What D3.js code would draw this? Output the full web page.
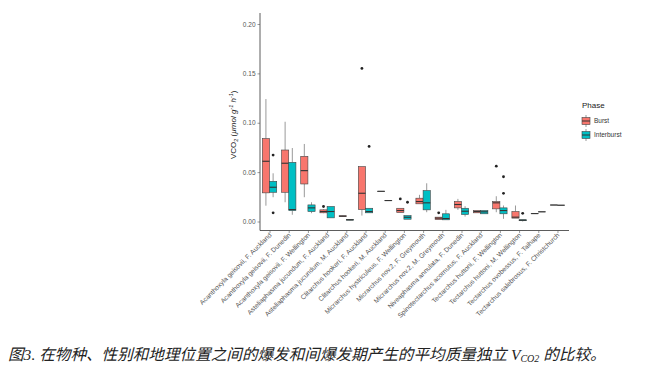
<!DOCTYPE html>
<html><head><meta charset="utf-8">
<script src="https://cdn.jsdelivr.net/npm/d3@7"></script>
<style>
html,body{margin:0;padding:0;background:#fff;}
svg{display:block;}
</style></head>
<body>
<svg id="chart" width="650" height="366"></svg>
<script>
const categories = [
  "Acanthoxyla geisovii, F. Auckland",
  "Acanthoxyla geisovii, F. Dunedin",
  "Acanthoxyla geisovii, F. Wellington",
  "Asteliaphasma jucundum, F. Auckland",
  "Asteliaphasma jucundum, M. Auckland",
  "Clitarchus hookeri, F. Auckland",
  "Clitarchus hookeri, M. Auckland",
  "Micrarchus hystriculeus, F. Wellington",
  "Micrarchus nov.2, F. Greymouth",
  "Micrarchus nov.2, M. Greymouth",
  "Niveaphasma annulata, F. Dunedin",
  "Spinotectarchus acornutus, F. Auckland",
  "Tectarchus huttoni, F. Wellington",
  "Tectarchus huttoni, M. Wellington",
  "Tectarchus ovobessus, F. Taihape",
  "Tectarchus salebrosus, F. Christchurch"
];
const phases = ["Burst", "Interburst"];
const phaseColors = ["#F8766D", "#00BFC4"];
const yTicks = [0, 0.05, 0.10, 0.15, 0.20];
const yTickLabels = ["0.00", "0.05", "0.10", "0.15", "0.20"];

// Burst five-number summaries
const burstMin = [0.016, 0.0195, 0.0246, 0.0084, 0.0048, 0.006, 0.0306, 0.0091, 0.0179, 0.002, 0.0118, 0.0088, 0.0094, 0.0034, 0.0080, 0.0167];
const burstQ1  = [0.029, 0.0296, 0.038, 0.0088, 0.0050, 0.0121, 0.0306, 0.0091, 0.0179, 0.002, 0.0138, 0.0088, 0.0128, 0.0034, 0.0080, 0.0167];
const burstMed = [0.061, 0.059, 0.0515, 0.0101, 0.0054, 0.0286, 0.0306, 0.0111, 0.0202, 0.0034, 0.0172, 0.0101, 0.0189, 0.0044, 0.0080, 0.0167];
const burstQ3  = [0.084, 0.0724, 0.066, 0.0118, 0.0058, 0.0556, 0.0306, 0.0134, 0.0236, 0.0044, 0.0202, 0.0111, 0.0202, 0.0101, 0.0080, 0.0167];
const burstMax = [0.124, 0.101, 0.0785, 0.0125, 0.0060, 0.0556, 0.0306, 0.0134, 0.027, 0.0044, 0.0229, 0.0111, 0.0256, 0.0162, 0.0080, 0.0167];
const burstOut = [[], [], [], [0.0152], [], [0.155], [], [0.0229], [], [0.0088], [], [], [0.056], [], [], []];

// Interburst five-number summaries
const interMin = [0.0246, 0.0068, 0.0084, 0.0037, 0.0012, 0.0088, 0.0212, 0.0023, 0.0094, 0.0017, 0.005, 0.0078, 0.0027, 0.0, 0.0098, 0.0165];
const interQ1  = [0.0296, 0.0111, 0.0101, 0.0037, 0.0014, 0.0088, 0.0212, 0.0023, 0.0118, 0.0017, 0.0071, 0.0078, 0.0078, 0.0008, 0.0098, 0.0165];
const interMed = [0.0347, 0.0121, 0.0138, 0.0101, 0.0017, 0.0101, 0.0212, 0.0043, 0.0189, 0.003, 0.0104, 0.0098, 0.0111, 0.0013, 0.0098, 0.0165];
const interQ3  = [0.0407, 0.0599, 0.0168, 0.0152, 0.0020, 0.0134, 0.0212, 0.006, 0.0313, 0.0078, 0.0134, 0.0111, 0.0138, 0.0018, 0.0098, 0.0165];
const interMax = [0.0488, 0.0744, 0.0195, 0.0152, 0.0022, 0.0134, 0.0212, 0.006, 0.0387, 0.0118, 0.0155, 0.0111, 0.0162, 0.0018, 0.0098, 0.0165];
const interOut = [[0.0673, 0.0088], [], [], [], [], [0.076], [], [0.0195], [], [], [], [], [0.0453, 0.0285], [0.0083], [], []];

const series = [
  {phase: phases[0], color: phaseColors[0], min: burstMin, q1: burstQ1, med: burstMed, q3: burstQ3, max: burstMax, out: burstOut},
  {phase: phases[1], color: phaseColors[1], min: interMin, q1: interQ1, med: interMed, q3: interQ3, max: interMax, out: interOut}
];

const svg = d3.select("#chart");
const x = d3.scalePoint().domain(categories).range([258, 569]).padding(0.6);
const step = x.step();
const y = d3.scaleLinear().domain([0, 0.2]).range([221.5, 24]);
const panelBottom = 230.5;
const boxW = step * 0.75 / 2;
const dodge = d3.scaleBand().domain(phases).range([-step * 0.375, step * 0.375]);

// boxes
series.forEach(s => {
  const g = svg.append("g");
  categories.forEach((c, i) => {
    const cx = x(c) + dodge(s.phase) + dodge.bandwidth() / 2;
    const x0 = cx - boxW / 2;
    g.append("line").attr("x1", cx).attr("x2", cx)
      .attr("y1", y(s.max[i])).attr("y2", y(s.q3[i]))
      .attr("stroke", "#555").attr("stroke-width", 0.6);
    g.append("line").attr("x1", cx).attr("x2", cx)
      .attr("y1", y(s.q1[i])).attr("y2", y(s.min[i]))
      .attr("stroke", "#555").attr("stroke-width", 0.6);
    g.append("rect").attr("x", x0).attr("width", boxW)
      .attr("y", y(s.q3[i])).attr("height", Math.max(0.01, y(s.q1[i]) - y(s.q3[i])))
      .attr("fill", s.color).attr("stroke", "#444").attr("stroke-width", 0.6);
    g.append("line").attr("x1", x0).attr("x2", x0 + boxW)
      .attr("y1", y(s.med[i])).attr("y2", y(s.med[i]))
      .attr("stroke", "#333").attr("stroke-width", 1.1);
    s.out[i].forEach(v => {
      g.append("circle").attr("cx", cx).attr("cy", y(v)).attr("r", 1.4).attr("fill", "#222");
    });
  });
});

// y axis
const yAxis = svg.append("g").attr("transform", "translate(260,0)")
  .call(d3.axisLeft(y).tickValues(yTicks).tickFormat((d, i) => yTickLabels[i]).tickSize(2.5).tickPadding(2));
yAxis.select(".domain").attr("d", `M0,13V${panelBottom}`).attr("stroke", "#333").attr("stroke-width", 0.8);
yAxis.selectAll(".tick line").attr("stroke", "#555").attr("stroke-width", 0.6);
yAxis.selectAll(".tick text").attr("fill", "#555").attr("font-size", "6.5px").attr("font-family", "Liberation Sans, Arial, sans-serif");

// x axis
const xAxis = svg.append("g").attr("transform", `translate(0,${panelBottom})`)
  .call(d3.axisBottom(x).tickSize(2.5).tickPadding(2));
xAxis.select(".domain").attr("d", `M260,0H569`).attr("stroke", "#333").attr("stroke-width", 0.8);
xAxis.selectAll(".tick line").attr("stroke", "#555").attr("stroke-width", 0.6);
xAxis.selectAll(".tick text")
  .attr("fill", "#555").attr("font-size", "6.7px").attr("font-family", "Liberation Sans, Arial, sans-serif")
  .attr("text-anchor", "end").attr("dy", null).attr("y", 0)
  .attr("transform", "translate(2,5) rotate(-45)");

// y title
const yt = svg.append("text").attr("transform", `translate(236,${(y(0) + y(0.2)) / 2 + 2}) rotate(-90)`)
  .attr("text-anchor", "middle").attr("font-size", "8px").attr("fill", "#222")
  .attr("font-family", "Liberation Sans, Arial, sans-serif");
yt.append("tspan").text("VCO");
yt.append("tspan").attr("font-size", "5.5px").attr("dy", 1.5).text("2");
yt.append("tspan").attr("dy", -1.5).text(" (");
yt.append("tspan").attr("font-style", "italic").text("µmol g");
yt.append("tspan").attr("font-size", "5.5px").attr("dy", -3).attr("font-style", "italic").text("-1");
yt.append("tspan").attr("dy", 3).attr("font-style", "italic").text(" h");
yt.append("tspan").attr("font-size", "5.5px").attr("dy", -3).attr("font-style", "italic").text("-1");
yt.append("tspan").attr("dy", 3).text(")");

// legend
const lg = svg.append("g").attr("transform", "translate(582,0)");
lg.append("text").attr("x", 0).attr("y", 108).text("Phase")
  .attr("font-size", "8px").attr("fill", "#222").attr("font-family", "Liberation Sans, Arial, sans-serif");
phases.forEach((p, i) => {
  const cy = 121 + i * 14;
  lg.append("line").attr("x1", 4).attr("x2", 4).attr("y1", cy - 6).attr("y2", cy + 6).attr("stroke", "#555").attr("stroke-width", 0.6);
  lg.append("rect").attr("x", 0).attr("y", cy - 3.5).attr("width", 8).attr("height", 7)
    .attr("fill", phaseColors[i]).attr("stroke", "#444").attr("stroke-width", 0.6);
  lg.append("line").attr("x1", 0).attr("x2", 8).attr("y1", cy).attr("y2", cy).attr("stroke", "#333").attr("stroke-width", 1);
  lg.append("text").attr("x", 12).attr("y", cy + 2.3).text(p)
    .attr("font-size", "6.5px").attr("fill", "#333").attr("font-family", "Liberation Sans, Arial, sans-serif");
});

// caption
const cap = svg.append("text").attr("x", 8).attr("y", 360)
  .attr("font-size", "15.6px").attr("font-style", "italic").attr("fill", "#222")
  .attr("font-family", "'Liberation Serif', 'Noto Sans CJK SC', serif");
cap.append("tspan").text("图3. 在物种、性别和地理位置之间的爆发和间爆发期产生的平均质量独立 V");
cap.append("tspan").attr("font-size", "10px").attr("dy", 2).text("CO2");
cap.append("tspan").attr("dy", -2).text(" 的比较。");
</script>
</body></html>
